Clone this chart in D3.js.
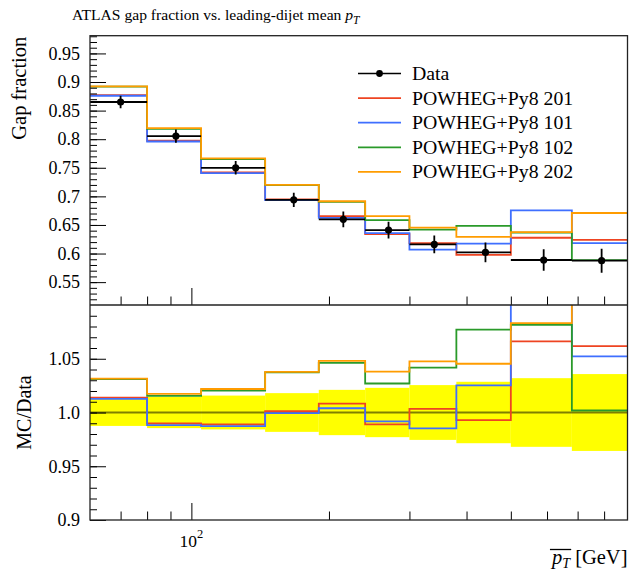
<!DOCTYPE html>
<html>
<head>
<meta charset="utf-8">
<script src="https://cdn.jsdelivr.net/npm/d3@7"></script>
<style>
body { margin: 0; background: #fff; }
text { font-family: "Liberation Serif", serif; fill: #000; }
</style>
</head>
<body>
<script>
// Bin edges of leading-dijet mean pT [GeV]
const binEdges = [60, 80, 105, 145, 190, 240, 300, 380, 500, 680, 900];

// Data gap fraction and its uncertainty
const dataVals = [0.8650, 0.8054, 0.7500, 0.6940, 0.6598, 0.6410, 0.6160, 0.6020, 0.5887, 0.5875];
const dataErrs = [0.0108, 0.0117, 0.0118, 0.0125, 0.0139, 0.0147, 0.0157, 0.0172, 0.0188, 0.0210];

// MC predictions
const pw201 = [0.8770, 0.7973, 0.7417, 0.6948, 0.6653, 0.6339, 0.6181, 0.5977, 0.6276, 0.6238];
const pw101 = [0.8760, 0.7960, 0.7405, 0.6936, 0.6624, 0.6357, 0.6069, 0.6172, 0.6755, 0.6182];
const pw102 = [0.8918, 0.8179, 0.7653, 0.7199, 0.6902, 0.6583, 0.6417, 0.6484, 0.6367, 0.5886];
const pw202 = [0.8922, 0.8193, 0.7664, 0.7202, 0.6915, 0.6654, 0.6453, 0.6293, 0.6376, 0.6709];

const seriesNames = ["POWHEG+Py8 201", "POWHEG+Py8 101", "POWHEG+Py8 102", "POWHEG+Py8 202"];
const seriesVals = [pw201, pw101, pw102, pw202];
const seriesColors = ["#ee4422", "#3f6fff", "#2a9a2a", "#ff9c00"];

const topTicks = [0.55, 0.6, 0.65, 0.7, 0.75, 0.8, 0.85, 0.9, 0.95];
const topTickLabels = ["0.55", "0.6", "0.65", "0.7", "0.75", "0.8", "0.85", "0.9", "0.95"];
const ratioTicks = [0.9, 0.95, 1.0, 1.05];
const ratioTickLabels = ["0.9", "0.95", "1.0", "1.05"];

const width = 641, height = 576;
const pLeft = 90, pRight = 627.5, pTop = 35.7, pMid = 305, pBottom = 520;

const svg = d3.select("body").append("svg")
  .attr("width", width)
  .attr("height", height);

const x = d3.scaleLog().domain([binEdges[0], binEdges[binEdges.length - 1]]).range([pLeft, pRight]);
const yTop = d3.scaleLinear().domain([0.51, 0.981]).range([pMid, pTop]);
const yRat = d3.scaleLinear().domain([0.9, 1.1]).range([pBottom, pMid]);

// clip paths for the two panels
const defs = svg.append("defs");
defs.append("clipPath").attr("id", "clipTop").append("rect")
  .attr("x", pLeft).attr("y", pTop).attr("width", pRight - pLeft).attr("height", pMid - pTop);
defs.append("clipPath").attr("id", "clipRat").append("rect")
  .attr("x", pLeft).attr("y", pMid).attr("width", pRight - pLeft).attr("height", pBottom - pMid);

function stepPoints(vals) {
  const pts = [];
  vals.forEach(function(v, i) {
    pts.push([binEdges[i], v]);
    pts.push([binEdges[i + 1], v]);
  });
  return pts;
}

const topG = svg.append("g").attr("clip-path", "url(#clipTop)");
const ratG = svg.append("g").attr("clip-path", "url(#clipRat)");

// ---- ratio panel: yellow data band and line at 1
const bins = dataVals.map(function(v, i) {
  return {lo: binEdges[i], hi: binEdges[i + 1], v: v, e: dataErrs[i]};
});

ratG.selectAll("rect.band")
  .data(bins)
  .enter()
  .append("rect")
  .attr("class", "band")
  .attr("x", function(d) { return x(d.lo); })
  .attr("width", function(d) { return x(d.hi) - x(d.lo); })
  .attr("y", function(d) { return yRat(1 + d.e / d.v); })
  .attr("height", function(d) { return yRat(1 - d.e / d.v) - yRat(1 + d.e / d.v); })
  .attr("fill", "#ffff00");

ratG.append("line")
  .attr("x1", pLeft).attr("x2", pRight)
  .attr("y1", yRat(1)).attr("y2", yRat(1))
  .attr("stroke", "#000").attr("stroke-opacity", 0.5).attr("stroke-width", 2);

// ---- MC histograms
const lineTop = d3.line().x(function(d) { return x(d[0]); }).y(function(d) { return yTop(d[1]); });
const lineRat = d3.line().x(function(d) { return x(d[0]); }).y(function(d) { return yRat(d[1]); });

seriesVals.forEach(function(vals, k) {
  topG.append("path")
    .attr("d", lineTop(stepPoints(vals)))
    .attr("fill", "none")
    .attr("stroke", seriesColors[k])
    .attr("stroke-width", 1.8);
  const ratios = vals.map(function(v, i) { return v / dataVals[i]; });
  ratG.append("path")
    .attr("d", lineRat(stepPoints(ratios)))
    .attr("fill", "none")
    .attr("stroke", seriesColors[k])
    .attr("stroke-width", 1.8);
});

// ---- data points
topG.selectAll("line.xbar")
  .data(bins)
  .enter()
  .append("line")
  .attr("class", "xbar")
  .attr("x1", function(d) { return x(d.lo); })
  .attr("x2", function(d) { return x(d.hi); })
  .attr("y1", function(d) { return yTop(d.v); })
  .attr("y2", function(d) { return yTop(d.v); })
  .attr("stroke", "#000").attr("stroke-width", 1.8);

topG.selectAll("line.ybar")
  .data(bins)
  .enter()
  .append("line")
  .attr("class", "ybar")
  .attr("x1", function(d) { return x((d.lo + d.hi) / 2); })
  .attr("x2", function(d) { return x((d.lo + d.hi) / 2); })
  .attr("y1", function(d) { return yTop(d.v - d.e); })
  .attr("y2", function(d) { return yTop(d.v + d.e); })
  .attr("stroke", "#000").attr("stroke-width", 1.8);

topG.selectAll("circle")
  .data(bins)
  .enter()
  .append("circle")
  .attr("cx", function(d) { return x((d.lo + d.hi) / 2); })
  .attr("cy", function(d) { return yTop(d.v); })
  .attr("r", 3.6)
  .attr("fill", "#000");

// ---- axes / ticks
function minorVals(lo, hi, step) {
  const out = [];
  for (let i = Math.round(lo / step); i * step <= hi + 1e-9; i++) out.push(+(i * step).toFixed(4));
  return out;
}

function styleTicks(g) {
  g.select(".domain").remove();
  g.selectAll(".tick line").attr("stroke", "#000").attr("stroke-width", 1);
}

// left ticks, top panel
svg.append("g")
  .attr("transform", "translate(" + pLeft + ",0)")
  .call(d3.axisLeft(yTop).tickValues(minorVals(0.52, 0.98, 0.01)).tickSize(-7).tickFormat(""))
  .call(styleTicks);
svg.append("g")
  .attr("transform", "translate(" + pLeft + ",0)")
  .call(d3.axisLeft(yTop).tickValues(topTicks).tickSize(-16).tickPadding(10)
    .tickFormat(function(d, i) { return topTickLabels[i]; }))
  .call(styleTicks)
  .selectAll("text").attr("font-size", "18px").attr("font-family", "Liberation Serif");

// left ticks, ratio panel
svg.append("g")
  .attr("transform", "translate(" + pLeft + ",0)")
  .call(d3.axisLeft(yRat).tickValues(minorVals(0.91, 1.09, 0.01)).tickSize(-7).tickFormat(""))
  .call(styleTicks);
svg.append("g")
  .attr("transform", "translate(" + pLeft + ",0)")
  .call(d3.axisLeft(yRat).tickValues(ratioTicks).tickSize(-16).tickPadding(10)
    .tickFormat(function(d, i) { return ratioTickLabels[i]; }))
  .call(styleTicks)
  .selectAll("text").attr("font-size", "18px").attr("font-family", "Liberation Serif");

// x ticks (log), at the bottom of both panels
const xMinor = [70, 80, 90, 200, 300, 400, 500, 600, 700, 800];
const xMajor = [100];
[pMid, pBottom].forEach(function(yy) {
  svg.append("g")
    .attr("transform", "translate(0," + yy + ")")
    .call(d3.axisBottom(x).tickValues(xMinor).tickSize(-8.5).tickFormat(""))
    .call(styleTicks);
  svg.append("g")
    .attr("transform", "translate(0," + yy + ")")
    .call(d3.axisBottom(x).tickValues(xMajor).tickSize(-17).tickFormat(""))
    .call(styleTicks);
});

// 10^2 label
const xl = svg.append("text")
  .attr("x", x(100))
  .attr("y", 547)
  .attr("text-anchor", "middle")
  .attr("font-size", "17.5px");
xl.append("tspan").text("10");
xl.append("tspan").attr("dy", -9).attr("font-size", "12.5px").text("2");

// frames
svg.append("rect")
  .attr("x", pLeft).attr("y", pTop).attr("width", pRight - pLeft).attr("height", pBottom - pTop)
  .attr("fill", "none").attr("stroke", "#222").attr("stroke-width", 1.3);
svg.append("line")
  .attr("x1", pLeft).attr("x2", pRight).attr("y1", pMid).attr("y2", pMid)
  .attr("stroke", "#222").attr("stroke-width", 1.3);

// ---- title
const title = svg.append("text")
  .attr("x", 72)
  .attr("y", 20)
  .attr("font-size", "15.6px");
title.append("tspan").text("ATLAS gap fraction vs. leading-dijet mean ");
title.append("tspan").attr("font-style", "italic").text("p");
title.append("tspan").attr("font-style", "italic").attr("font-size", "11.5px").attr("dy", 4).text("T");

// ---- axis labels
svg.append("text")
  .attr("transform", "translate(26," + (pTop + 1) + ") rotate(-90)")
  .attr("text-anchor", "end")
  .attr("font-size", "20.5px")
  .text("Gap fraction");

svg.append("text")
  .attr("transform", "translate(31," + yRat(1) + ") rotate(-90)")
  .attr("text-anchor", "middle")
  .attr("font-size", "20px")
  .text("MC/Data");

// x label: overline p_T [GeV]
const gev = svg.append("text")
  .attr("x", pRight)
  .attr("y", 564)
  .attr("text-anchor", "end")
  .attr("font-size", "20.5px")
  .text("\u00a0[GeV]");
const gevW = gev.node().getComputedTextLength();
const ptLab = svg.append("text")
  .attr("x", pRight - gevW)
  .attr("y", 564)
  .attr("text-anchor", "end")
  .attr("font-size", "20.5px");
ptLab.append("tspan").attr("font-style", "italic").text("p");
ptLab.append("tspan").attr("font-style", "italic").attr("font-size", "14px").attr("dy", 4).text("T");
const pb = ptLab.node().getBBox();
svg.append("line")
  .attr("x1", pb.x).attr("x2", pb.x + pb.width)
  .attr("y1", 549.5).attr("y2", 549.5)
  .attr("stroke", "#000").attr("stroke-width", 1.3);

// ---- legend
const legend = svg.append("g")
  .attr("transform", "translate(358,73.5)");
const legRows = [{name: "Data", color: "#000", data: true}].concat(seriesNames.map(function(n, k) {
  return {name: n, color: seriesColors[k], data: false};
}));

const rows = legend.selectAll("g.row")
  .data(legRows)
  .enter()
  .append("g")
  .attr("class", "row")
  .attr("transform", function(d, i) { return "translate(0," + i * 24.6 + ")"; });

rows.append("line")
  .attr("x1", 0).attr("x2", 43)
  .attr("stroke", function(d) { return d.color; })
  .attr("stroke-width", function(d) { return d.data ? 1.5 : 1.8; });

rows.filter(function(d) { return d.data; })
  .append("circle")
  .attr("cx", 21.5).attr("r", 3.4).attr("fill", "#000");

rows.append("text")
  .attr("x", 54)
  .attr("y", 6.5)
  .attr("font-size", "19.8px")
  .text(function(d) { return d.name; });
</script>
</body>
</html>
